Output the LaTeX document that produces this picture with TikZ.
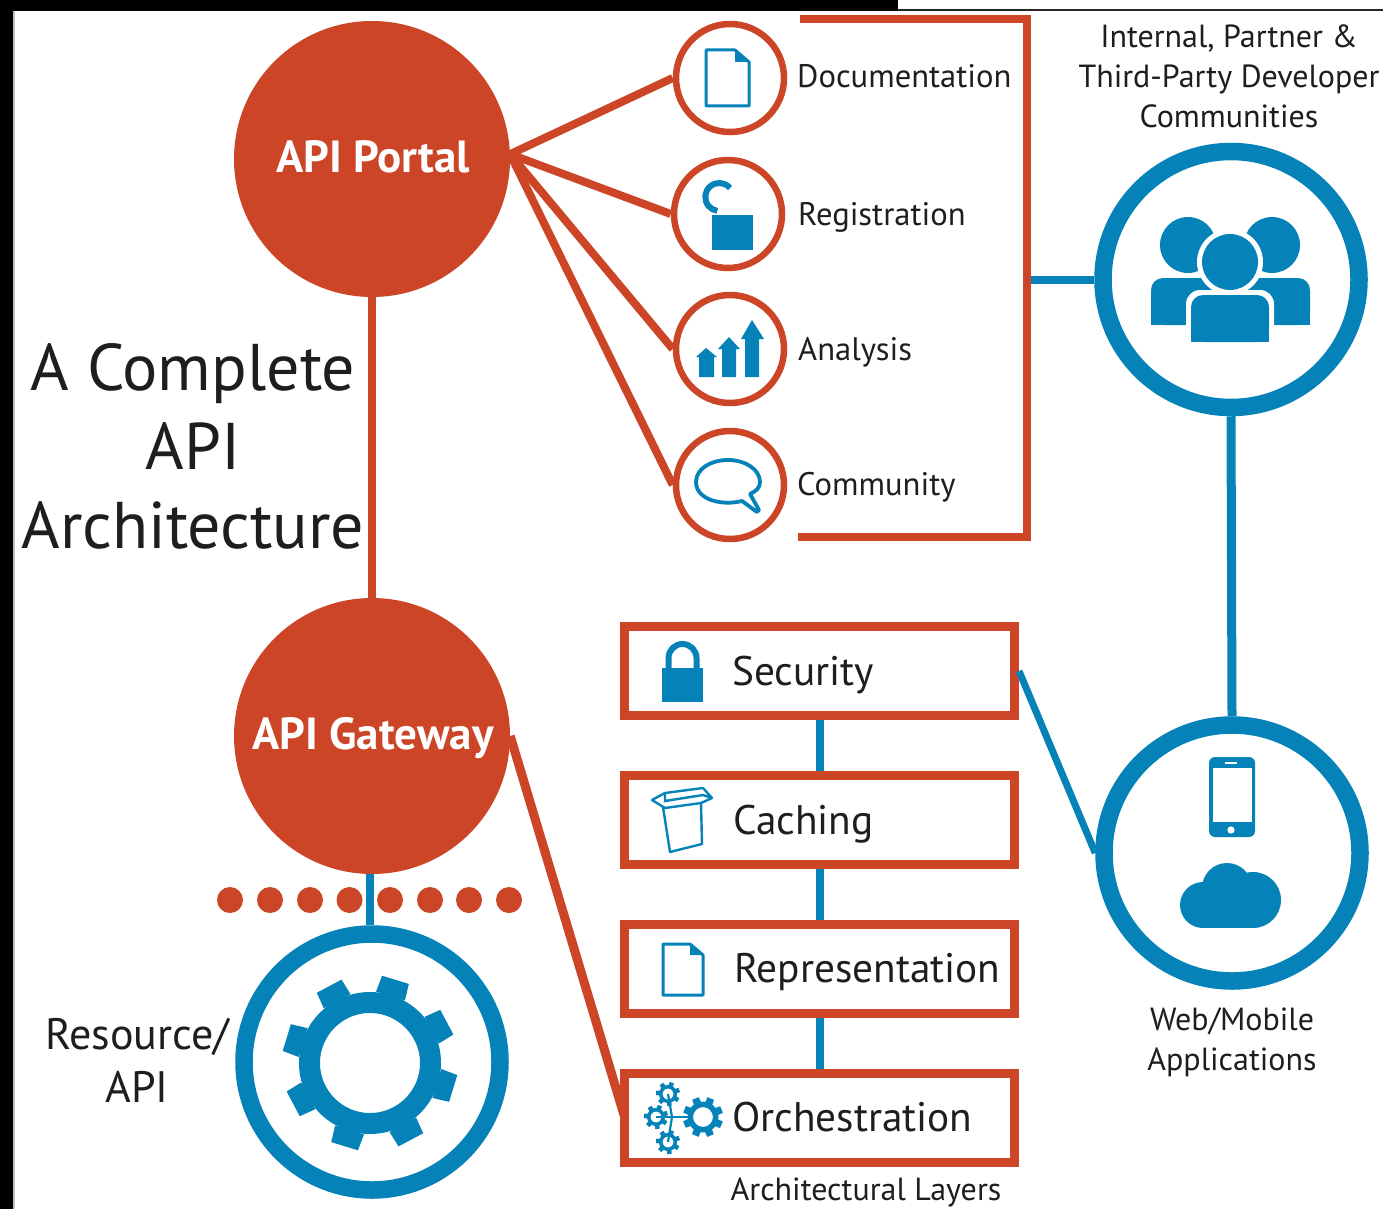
\documentclass[tikz,border=0pt]{standalone}
\usepackage{fontspec}
\setmainfont{PT Sans}
\definecolor{apired}{HTML}{CB4526}
\definecolor{apiblue}{HTML}{0583B8}
\definecolor{apitext}{HTML}{1E1E1E}
\newcommand{\apidoc}[6]{%
  \draw[blueline,line width=3pt,line join=round] (#1,#2) -- (#5,#2) -- (#3,#6) -- (#3,#4) -- (#1,#4) -- cycle;
  \fill[apiblue] (#5,#2) -- (#3,#6) -- (#5,#6) -- cycle;}
\newcommand{\apigear}[8]{%
  \pgfmathsetmacro{\apimid}{(#3+#4)/2}\pgfmathsetmacro{\apiw}{#4-#3}%
  \draw[apiblue,line width=\apiw pt] (#1,#2) circle[radius=\apimid pt];
  \foreach \k in {1,...,#6}{
    \fill[apiblue,shift={(#1,#2)},rotate={#7+\k*360/#6}]
      ({#4-1},{-1.08*#8}) -- (#5,{-#8}) -- (#5,{#8}) -- ({#4-1},{1.08*#8}) -- cycle;
  }}
\tikzset{
  x=1pt,y=-1pt,
  redline/.style={draw=apired,line width=#1},
  redline/.default=8pt,
  blueline/.style={draw=apiblue},
  hub/.style={circle,fill=apired,draw=none,minimum size=276pt,inner sep=0pt},
  hubtext/.style={inner sep=0pt,text=white,font=\fontsize{45}{48}\selectfont\bfseries},
  ringsmall/.style={circle,draw=apired,fill=white,line width=6.5pt,minimum size=108pt,inner sep=0pt},
  ringbig/.style={circle,draw=apiblue,fill=white,line width=17.5pt,minimum size=256pt,inner sep=0pt},
  layerbox/.style={rectangle,draw=apired,fill=white,line width=9pt,minimum width=390pt,minimum height=89pt,inner sep=0pt},
  dotnode/.style={circle,fill=apired,minimum size=26pt,inner sep=0pt},
  smalllabel/.style={anchor=base west,inner sep=0pt,text=apitext,font=\fontsize{32.6}{36}\selectfont},
  layerlabel/.style={anchor=base west,inner sep=0pt,text=apitext,font=\fontsize{41.3}{46}\selectfont},
  caption/.style={align=center,inner sep=0pt,text=apitext,font=\fontsize{32}{40}\selectfont},
}
\begin{document}
\begin{tikzpicture}
\useasboundingbox (0,0) rectangle (1383,1209);
\fill[white] (0,0) rectangle (1383,1209);
\fill[black] (0,0) rectangle (898,11);
\fill[black] (0,0) rectangle (13,1209);
\fill[black!25] (13,11) rectangle (15,1209);
\fill[black!85] (898,9.5) rectangle (1383,11);

% main nodes
\node[hub] (portal) at (372,159) {};
\node[hub] (gateway) at (372,736) {};
\node[ringsmall] (doc) at (730,78) {};
\node[ringsmall] (reg) at (728,214) {};
\node[ringsmall] (ana) at (730,349) {};
\node[ringsmall] (com) at (730,485) {};
\node[ringbig] (people) at (1231,279.5) {};
\node[ringbig] (web) at (1232,853) {};
\node[ringbig] (resource) at (372,1062) {};
\node[layerbox] (security) at (819.5,671) {};
\node[layerbox] (caching) at (819.5,820) {};
\node[layerbox] (repres) at (819.5,969) {};
\node[layerbox] (orch) at (819.5,1118) {};

% connectors
\draw[redline] (portal) -- (gateway);
\draw[redline=8pt] (portal.2) -- (doc.180);
\draw[redline=8pt] (portal.2) -- (reg.180);
\draw[redline=8pt] (portal.2) -- (ana.180);
\draw[redline=8pt] (portal.2) -- (com.180);
\draw[redline=9pt] (gateway.east) -- ([shift={(4,-3)}]orch.west);
\draw[blueline,line width=8pt] ([xshift=-2pt]gateway.south) -- ([xshift=-2pt]resource.north);
\draw[blueline,line width=9pt] (people.south) -- (web.north);
\draw[blueline,line width=7pt] (security.east) -- (web.west);
\draw[blueline,line width=8pt] (security.south) -- (caching.north);
\draw[blueline,line width=8pt] (caching.south) -- (repres.north);
\draw[blueline,line width=8pt] (repres.south) -- (orch.north);
\coordinate (brt) at (800,19);
\coordinate (brb) at (798,537);
\coordinate (brc) at (1027,19);
\coordinate (brd) at (1027,537);
\coordinate (brm) at (1031,279.5);
\draw[redline] (brt) -- (brc) -- (brd) -- (brb);
\draw[blueline,line width=8pt] (brm) -- (people.west);

% dots
\foreach \i/\x in {1/230,2/270,3/310,4/349.5,5/390,6/430,7/469,8/509}
  \node[dotnode] (dot\i) at (\x,900) {};

% doc icon
\apidoc{706}{50}{749}{106}{735}{62}
% registration icon
\fill[apiblue] (712,215) rectangle (753,250);
\draw[blueline,line width=6pt] (730,188) arc[start angle=40,end angle=262,radius=14pt];
% analysis icon
\fill[apiblue] (699,377) -- (699,357) -- (696,357) -- (706,348) -- (717,357) -- (714,357) -- (714,377) -- cycle;
\fill[apiblue] (722,377) -- (722,349) -- (718,349) -- (729,337) -- (740,349) -- (736,349) -- (736,377) -- cycle;
\fill[apiblue] (745,377) -- (745,339) -- (741,339) -- (752,320) -- (764,339) -- (759,339) -- (759,377) -- cycle;
% community icon
\draw[blueline,line width=3.8pt,line join=round]
  (742,501) .. controls (722,506) and (696,500) .. (696,482)
  .. controls (696,468) and (712,460) .. (728,460)
  .. controls (746,460) and (760,470) .. (760,482)
  .. controls (760,488) and (756,491) .. (750,494)
  -- (759,510) -- (757,512) -- cycle;
% people icon
\fill[apiblue] (1188,245) circle[radius=28pt];
\fill[apiblue] (1272,245) circle[radius=28pt];
\fill[apiblue,rounded corners=12pt] (1151,325) -- (1151,278) -- (1310,278) -- (1310,325) -- cycle;
\fill[apiblue] (1151,300) rectangle (1310,325);
\fill[white] (1230,262) circle[radius=33pt];
\fill[white,rounded corners=14pt] (1186,345) -- (1186,290) -- (1274,290) -- (1274,345) -- cycle;
\fill[white] (1186,320) rectangle (1274,345);
\fill[apiblue] (1230,262) circle[radius=28pt];
\fill[apiblue,rounded corners=12pt] (1191,342) -- (1191,295) -- (1269,295) -- (1269,342) -- cycle;
\fill[apiblue] (1191,325) rectangle (1269,342);
% phone icon
\fill[apiblue,rounded corners=6pt] (1209,757) rectangle (1255,837);
\fill[white] (1213,768) rectangle (1252,822);
\fill[white] (1231,830) circle[radius=3.6pt];
\fill[white] (1225,761.5) rectangle (1237,763.5);
% cloud icon
\fill[apiblue] (1227,888) circle[radius=25pt];
\fill[apiblue] (1253,900) circle[radius=28pt];
\fill[apiblue] (1203,905) circle[radius=23pt];
\fill[apiblue] (1203,905) rectangle (1253,928);
% resource gear
\apigear{370}{1063}{50}{71}{87}{8}{73}{14}
% security lock
\fill[apiblue] (662,668) rectangle (703,702);
\draw[blueline,line width=6pt] (668.5,668) -- (668.5,658) arc[start angle=180,end angle=0,radius=14pt] -- (696.5,668);
% caching box
\draw[blueline,line width=2.4pt,line join=round]
  (663,807) -- (670,852) -- (702,844) -- (701,803);
\draw[blueline,line width=2.4pt,line join=round]
  (652,800) -- (665,808) -- (701,803) -- (712,798) -- (703,788) -- (665,793) -- cycle;
\draw[blueline,line width=2.4pt] (665,793) -- (665,801) -- (703,795) -- (712,798);
% representation icon
\apidoc{663}{944}{703}{995}{690}{955}
% orchestration icon
\draw[blueline,line width=2.2pt] (668,1094) -- (672,1117) -- (668,1142);
\draw[blueline,line width=2.2pt] (656,1117) -- (690,1117);
\apigear{703}{1117}{10}{15.5}{20}{8}{22}{3.5}
\apigear{668}{1094}{5.5}{9}{12}{7}{20}{2.2}
\apigear{656}{1117}{5.5}{9}{12}{7}{20}{2.2}
\apigear{668}{1142}{5.5}{9}{12}{7}{20}{2.2}

% labels
\node[hubtext] (portaltxt) at (373,157) {API Portal};
\node[hubtext] (gatewaytxt) at (373,738) {API Gateway};
\node[smalllabel] (doctxt) at (797,88) {Documentation};
\node[smalllabel] (regtxt) at (798,225) {Registration};
\node[smalllabel] (anatxt) at (798,360) {Analysis};
\node[smalllabel] (comtxt) at (797,495) {Community};
\node[layerlabel] (sectxt) at (732,685) {Security};
\node[layerlabel] (cachetxt) at (733,834) {Caching};
\node[layerlabel] (reptxt) at (734,982) {Representation};
\node[layerlabel] (orchtxt) at (732,1131) {Orchestration};
\node[align=center,inner sep=0pt,text=apitext,font=\fontsize{66}{79}\selectfont] (title) at (193,446) {A Complete\\API\\Architecture};
\node[caption] (devtxt) at (1229,76) {Internal, Partner \&\\Third-Party Developer\\Communities};
\node[caption] (webtxt) at (1232,1042) {Web/Mobile\\Applications};
\node[caption,font=\fontsize{44}{53}\selectfont] (restxt) at (137,1060) {Resource/\\API};
\node[caption] (archtxt) at (866,1192) {Architectural Layers};
\end{tikzpicture}
\end{document}
